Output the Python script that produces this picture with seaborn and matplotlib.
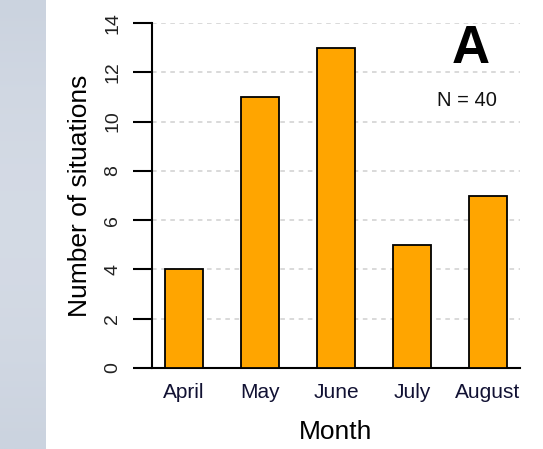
import numpy as np
import pandas as pd
import matplotlib
matplotlib.use("Agg")
import matplotlib.pyplot as plt
import seaborn as sns

months = ["April", "May", "June", "July", "August"]
counts = [4, 11, 13, 5, 7]
y_ticks = [0, 2, 4, 6, 8, 10, 12, 14]
panel_label = "A"
n_label = "N = 40"

sns.set_theme(style="white")
plt.rcParams["font.family"] = ["Liberation Sans", "DejaVu Sans"]
plt.rcParams["text.color"] = "black"
plt.rcParams["axes.labelcolor"] = "black"

df = pd.DataFrame({"Month": months, "Count": counts})

fig = plt.figure(figsize=(5.43, 4.49), dpi=100)
fig.patch.set_facecolor("white")

# shaded side strip
strip = fig.add_axes([0, 0, 46 / 543, 1])
grad = np.linspace(0, 1, 200)
cols = np.zeros((200, 1, 3))
top_c = np.array([203, 211, 223]) / 255
mid_c = np.array([214, 220, 230]) / 255
cols[:, 0, :] = top_c + (mid_c - top_c) * np.sin(grad * np.pi)[:, None] * 0.8
strip.imshow(cols, aspect="auto", extent=[0, 1, 0, 1])
strip.set_axis_off()

ax = fig.add_axes([152 / 543, 1 - 368 / 449, (520 - 152) / 543, (368 - 23) / 449])
sns.barplot(data=df, x="Month", y="Count", color="#FFA500", width=0.5,
            edgecolor="black", linewidth=1.3, saturation=1, ax=ax, zorder=3)

ax.set_xlim(-0.42, 4.42)
ax.set_ylim(0, 14)
ax.set_yticks(y_ticks)
ax.set_yticklabels([str(v) for v in y_ticks], rotation=90, va="center")
for v in y_ticks[1:]:
    ax.axhline(v, color="#d0d0d0", linestyle=(0, (3, 3)), linewidth=1.1, zorder=1)

for s in ["top", "right"]:
    ax.spines[s].set_visible(False)
ax.spines["left"].set_color("black")
ax.spines["left"].set_linewidth(1.5)
ax.spines["bottom"].set_color("black")
ax.spines["bottom"].set_linewidth(1.5)

ax.tick_params(axis="y", direction="out", length=14, width=1.5, color="black",
               labelsize=14, pad=8, left=True, labelcolor="#222222")
ax.tick_params(axis="x", length=0, labelsize=15, pad=11, labelcolor="#111133")

ax.set_xlabel("Month", fontsize=19, labelpad=13)
ax.set_ylabel("Number of situations", fontsize=19, labelpad=9)

ax.text(0.866, 0.925, panel_label, transform=ax.transAxes, fontsize=38,
        fontweight="bold", ha="center", va="center", color="black")
ax.text(0.855, 0.775, n_label, transform=ax.transAxes, fontsize=14.5,
        ha="center", va="center", color="#111111")

fig.savefig("out.png", dpi=100)
